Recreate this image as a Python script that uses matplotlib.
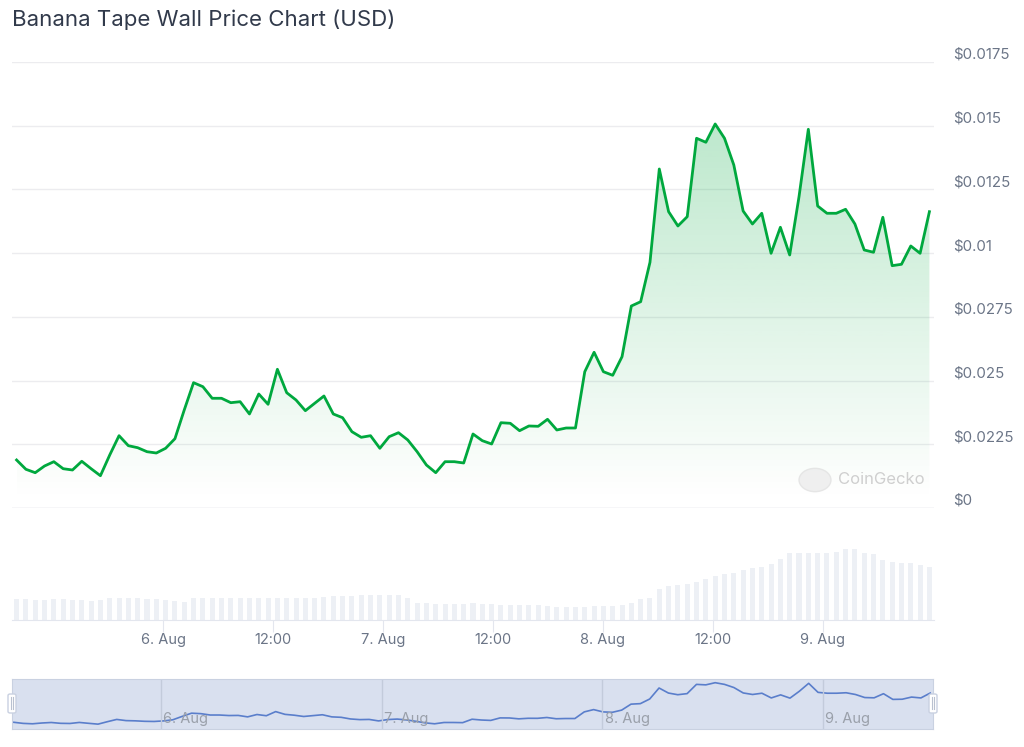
import matplotlib
matplotlib.use('Agg')
import matplotlib.pyplot as plt
import matplotlib.dates as mdates
import matplotlib.transforms as mtransforms
from matplotlib.patches import Polygon, Circle, FancyBboxPatch
import numpy as np
import pandas as pd

plt.rcParams['font.family'] = ['Inter', 'DejaVu Sans']

# price in USD (hourly-ish samples)
prices = [
    0.001884, 0.001519, 0.001385, 0.001648, 0.001817, 0.001542, 0.001491, 0.001833, 0.001542, 0.001267,
    0.002080, 0.002837, 0.002445, 0.002366, 0.002209, 0.002158, 0.002343, 0.002719, 0.003846, 0.004917,
    0.004760, 0.004305, 0.004305, 0.004132, 0.004171, 0.003689, 0.004473, 0.004069, 0.005443, 0.004524,
    0.004238, 0.003818, 0.004108, 0.004395, 0.003689, 0.003543, 0.002994, 0.002774, 0.002837, 0.002343,
    0.002798, 0.002955, 0.002668, 0.002209, 0.001687, 0.001385, 0.001817, 0.001817, 0.001766, 0.002904,
    0.002641, 0.002511, 0.003347, 0.003324, 0.003033, 0.003218, 0.003206, 0.003481, 0.003061, 0.003139,
    0.003139, 0.005348, 0.006110, 0.005348, 0.005207, 0.005937, 0.007926, 0.008095, 0.009641, 0.013302,
    0.011627, 0.011066, 0.011431, 0.014507, 0.014350, 0.015068, 0.014507, 0.013459, 0.011654, 0.011144,
    0.011564, 0.009994, 0.011015, 0.009928, 0.012215, 0.014860, 0.011850, 0.011564, 0.011564, 0.011721,
    0.011144, 0.010124, 0.010034, 0.011407, 0.009508, 0.009563, 0.010281, 0.009994, 0.011627,
]

# relative volume (no scale shown on the chart)
volumes = [
    21.3, 21.0, 19.7, 19.7, 21.3, 21.0, 20.0, 19.7, 18.7, 20.0,
    22.3, 22.3, 22.3, 22.3, 21.0, 21.0, 19.7, 18.7, 18.3, 22.3,
    22.3, 22.3, 22.3, 22.3, 22.3, 22.3, 22.3, 22.3, 22.3, 22.3,
    22.3, 22.3, 22.3, 23.0, 24.0, 24.0, 24.0, 25.0, 25.0, 25.0,
    25.0, 25.0, 22.3, 17.3, 17.3, 16.3, 16.3, 16.3, 16.3, 17.3,
    16.3, 16.3, 15.0, 15.0, 15.0, 15.0, 15.0, 14.0, 12.7, 12.7,
    12.7, 12.7, 14.0, 14.0, 14.0, 15.0, 17.3, 21.0, 22.3, 31.0,
    34.0, 35.0, 36.0, 38.3, 41.0, 44.0, 46.0, 47.3, 50.0, 52.3,
    53.3, 56.0, 61.0, 66.7, 66.7, 66.7, 66.7, 66.7, 68.3, 71.0,
    71.0, 66.7, 65.7, 60.0, 58.3, 57.3, 57.3, 55.0, 53.3,
]

y_ticks = [0, 0.0025, 0.005, 0.0075, 0.01, 0.0125, 0.015, 0.0175]
y_labels = ['$0', '$0.0225', '$0.025', '$0.0275', '$0.01', '$0.0125', '$0.015', '$0.0175']

x_ticks = pd.to_datetime(['2024-08-06 00:00', '2024-08-06 12:00', '2024-08-07 00:00',
                          '2024-08-07 12:00', '2024-08-08 00:00', '2024-08-08 12:00',
                          '2024-08-09 00:00'])
x_labels = ['6. Aug', '12:00', '7. Aug', '12:00', '8. Aug', '12:00', '9. Aug']
nav_days = pd.to_datetime(['2024-08-06', '2024-08-07', '2024-08-08', '2024-08-09'])
nav_labels = ['6. Aug', '7. Aug', '8. Aug', '9. Aug']

times = pd.date_range('2024-08-05 08:00', periods=len(prices), freq='61min')

green = '#00a83e'
label_col = '#6b7587'
W, H = 1024, 747

fig = plt.figure(figsize=(W / 100, H / 100), dpi=100)

xn = mdates.date2num(times)
xlim = (xn[0] - 0.5 / 24, xn[-1] + 0.5 / 24)

# price panel
ax = fig.add_axes([12 / W, 1 - 508 / H, 922 / W, 446 / H])
ax.set_xlim(xlim)
ax.set_ylim(0, 0.0175)
ax.plot(xn, prices, color=green, lw=2, zorder=3, solid_joinstyle='round')

verts = [(xn[0], 0)] + list(zip(xn, prices)) + [(xn[-1], 0)]
poly = Polygon(verts, closed=True, facecolor='none', edgecolor='none')
ax.add_patch(poly)
rgba = np.zeros((256, 1, 4))
rgba[..., :3] = matplotlib.colors.to_rgb(green)
rgba[..., 3] = np.linspace(0.27, 0.0, 256).reshape(-1, 1)
img = ax.imshow(rgba, extent=[xn[0], xn[-1], 0.0003, 0.0155], aspect='auto',
                origin='upper', zorder=2, interpolation='bilinear')
img.set_clip_path(poly)

ax.set_yticks(y_ticks)
ax.set_yticklabels(y_labels)
ax.yaxis.tick_right()
ax.tick_params(axis='y', length=0, pad=14, labelsize=10.8, labelcolor=label_col)
for t in ax.get_yticklabels():
    t.set_verticalalignment('bottom')
ax.set_xticks([])
ax.grid(axis='y', color='#ececef', lw=1)
ax.set_axisbelow(True)
for s in ax.spines.values():
    s.set_visible(False)
ax.axhline(0, color='#e3e6ee', lw=1, zorder=1)

# volume panel
axv = fig.add_axes([12 / W, 1 - 620 / H, 922 / W, 100 / H])
axv.set_xlim(xlim)
axv.set_ylim(0, 100)
axv.bar(xn, volumes, width=0.55 / 24, color='#edf0f5', align='center')
for s in ['top', 'left', 'right']:
    axv.spines[s].set_visible(False)
axv.spines['bottom'].set_color('#e3e6ee')
axv.set_yticks([])
axv.set_xticks(mdates.date2num(x_ticks))
axv.set_xticklabels(x_labels)
axv.tick_params(axis='x', length=8.6, color='#e3e6ee', labelsize=10.5, labelcolor=label_col, pad=1)
axv.patch.set_alpha(0)

# navigator
axn = fig.add_axes([12 / W, 18 / H, 921 / W, 50 / H])
axn.set_facecolor('#d9e0ef')
axn.set_xlim(xn[0] - 0.2 / 24, xn[-1] + 0.3 / 24)
axn.set_ylim(-0.00035, 0.0163)
axn.plot(xn, prices, color='#5a7ecb', lw=1.2)
for s in axn.spines.values():
    s.set_color('#c9d1e1')
axn.set_xticks([])
axn.set_yticks([])
trans = mtransforms.blended_transform_factory(axn.transData, axn.transAxes)
for d, lab in zip(mdates.date2num(nav_days), nav_labels):
    axn.axvline(d, color='#c3cbdb', lw=1)
    axn.text(d + 0.01, 0.06, lab, transform=trans, fontsize=10.5, color='#9aa0aa', va='bottom')

# navigator handles
for hx in (12, 933):
    fig.patches.append(FancyBboxPatch(((hx - 4) / W, 1 - 713 / H), 8 / W, 19 / H,
                                      boxstyle='round,pad=0,rounding_size=0.002',
                                      transform=fig.transFigure, facecolor='white',
                                      edgecolor='#c9d1e1', lw=1))
    for dx in (-1.2, 1.2):
        fig.lines.append(plt.Line2D([(hx + dx) / W] * 2, [1 - 709 / H, 1 - 697 / H],
                                    transform=fig.transFigure, color='#b9c1d0', lw=0.8))

# watermark
fig.patches.append(Circle((815 / W, 1 - 480 / H), 16 / W, transform=fig.transFigure,
                          facecolor='#ececec', edgecolor='#e2e2e2', lw=1, alpha=0.8))
fig.text(838 / W, 1 - 480 / H, 'CoinGecko', fontsize=12, color='#cfcfcf', va='center')

fig.text(12 / W, 1 - 20 / H, 'Banana Tape Wall Price Chart (USD)', fontsize=16,
         color='#313a4b', va='center')

fig.savefig('out.png', dpi=100)
